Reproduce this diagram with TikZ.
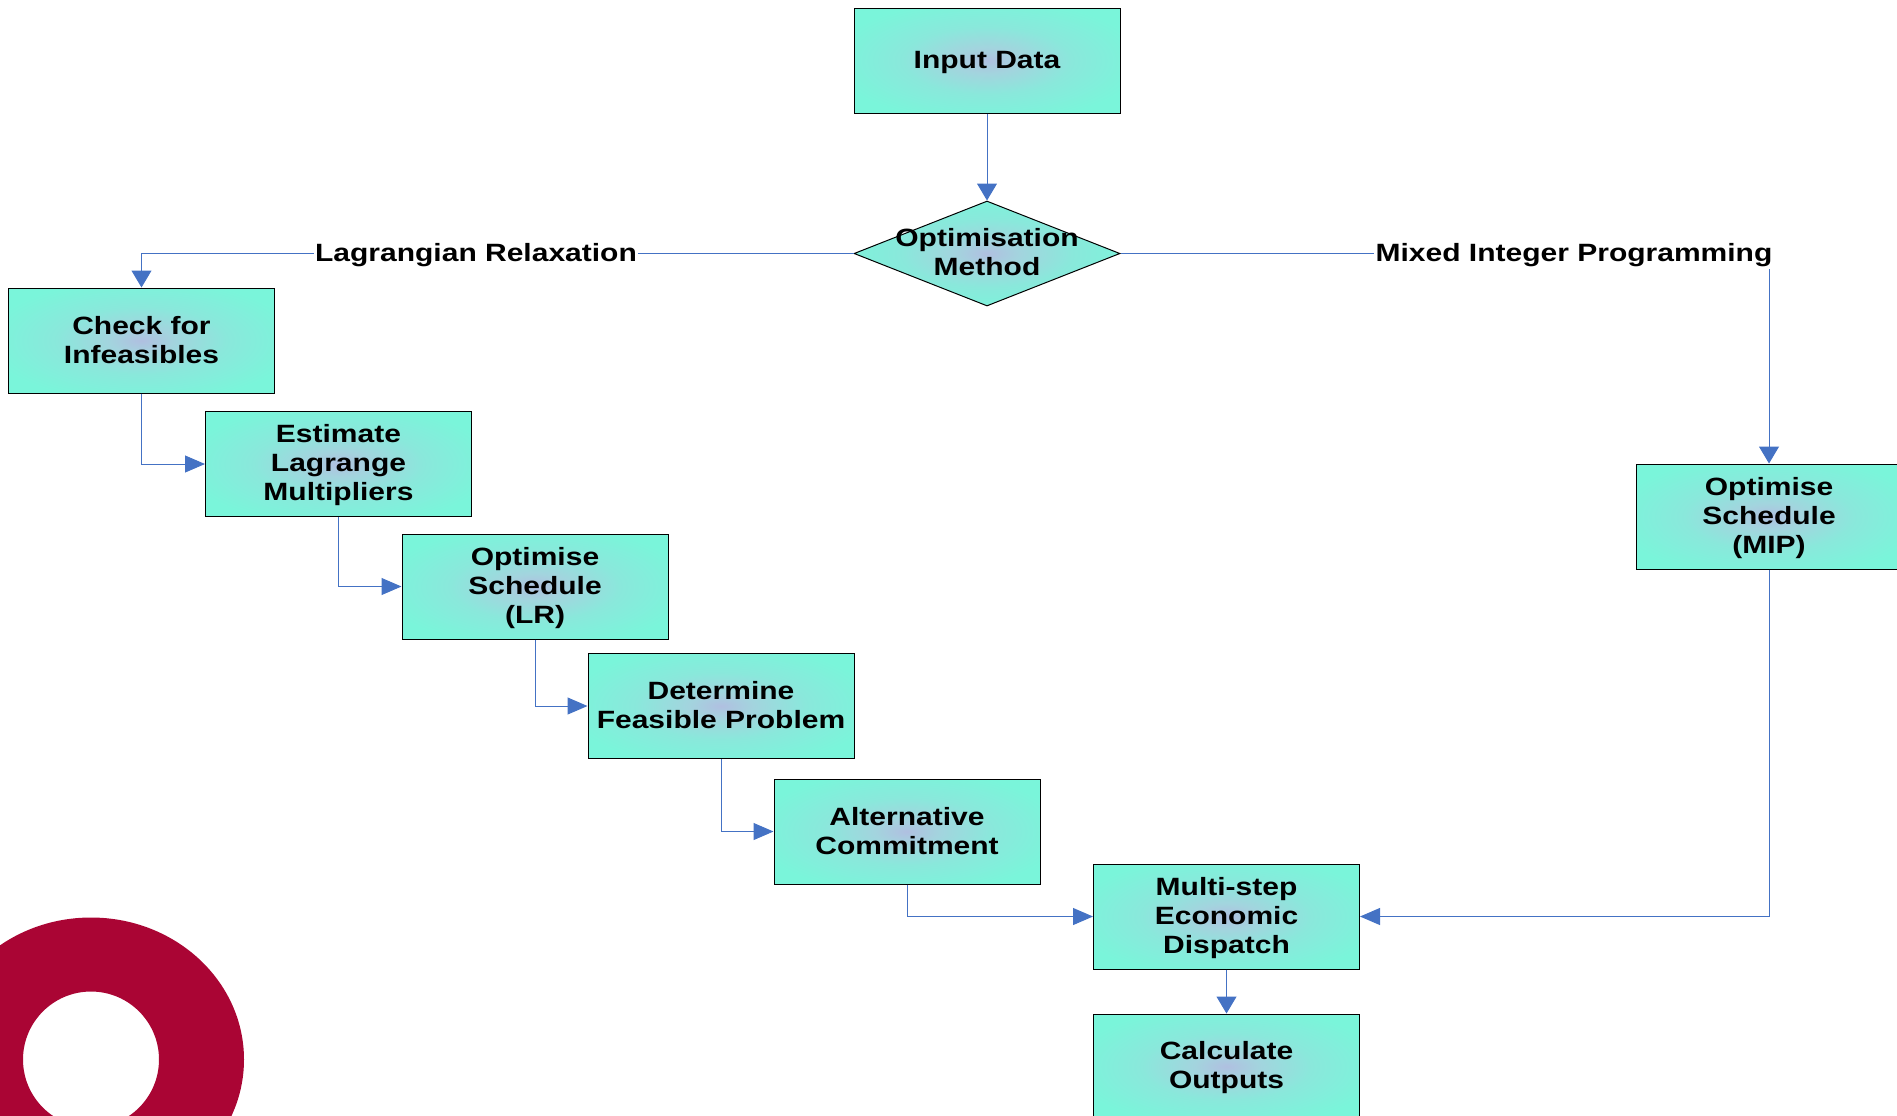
\documentclass[tikz,border=0pt]{standalone}
\usepackage{fontspec}
\setmainfont[FakeStretch=1.2]{Liberation Sans}
\usetikzlibrary{arrows.meta,shapes.geometric}
\definecolor{linkblue}{RGB}{68,114,196}
\definecolor{ringred}{RGB}{170,5,52}
\pgfdeclareradialshading{flowshade}{\pgfpoint{0bp}{0bp}}{%
  rgb(0bp)=(0.69,0.75,0.88);
  rgb(6bp)=(0.64,0.83,0.87);
  rgb(16bp)=(0.54,0.91,0.86);
  rgb(29bp)=(0.48,0.96,0.855);
  rgb(100bp)=(0.48,0.96,0.855)}
\newcommand{\topdrop}{\rule{0pt}{15.5pt}}
\tikzset{every picture/.style={line width=0.75pt}}
\tikzset{
  flowtext/.style={font=\fontsize{18.75}{21.75}\selectfont\bfseries,align=center,inner sep=0pt},
  flowbox/.style={flowtext,draw=black,shading=flowshade,minimum width=199.5pt,minimum height=78.75pt},
  flowdiam/.style={shape=diamond,draw=black,shading=flowshade,inner sep=0pt,minimum width=199.5pt,minimum height=78.75pt},
  flowlabel/.style={flowtext,fill=white,inner xsep=1pt,inner ysep=2pt},
  link/.style={draw=linkblue,-{Triangle[width=15pt,length=12.75pt,fill=linkblue]}},
  linkh/.style={draw=linkblue,-{Triangle[width=12.75pt,length=15pt,fill=linkblue]}},
}
\begin{document}
\begin{tikzpicture}[x=0.75pt,y=0.75pt,yscale=-1,xscale=1]
        \clip (0,0) rectangle (1897,1115);

        % Ring
        \fill [ringred,even odd rule] (91,1059.5) ellipse [x radius=153,y radius=142] (91,1059.5) circle (68);

        % Boxes
        \node [flowbox] (input) at (987,60.5) {\raisebox{0pt}[13.5pt][1.5pt]{Input Data}};
        \node [flowdiam] (method) at (987,253.5) {};
        \node [flowtext] (methodtext) at (987,252.5) {Optimisation\\Method};
        \node [flowbox] (check) at (141.5,340.5) {Check for\\Infeasibles};
        \node [flowbox] (estimate) at (338.5,464) {\topdrop Estimate\\Lagrange\\Multipliers};
        \node [flowbox] (lrsched) at (535,586.5) {\topdrop Optimise\\Schedule\\(LR)};
        \node [flowbox] (feasible) at (721,706) {Determine\\Feasible Problem\rule[-1.8pt]{0pt}{0pt}};
        \node [flowbox] (commit) at (907,831.5) {Alternative\\Commitment};
        \node [flowbox] (dispatch) at (1226.5,916.5) {\topdrop Multi-step\\Economic\\Dispatch};
        \node [flowbox] (outputs) at (1226.5,1066.5) {\topdrop Calculate\\Outputs};
        \node [flowbox] (mipsched) at (1769,516.5) {\topdrop Optimise\\Schedule\\(MIP)};

        % Connectors
        \draw [link] (input) -- (method);
        \draw [link] (method.west) -| (check.north);
        \draw [link] (method.east) -| (mipsched.north);
        \draw [linkh] (check.south) |- (estimate.west);
        \draw [linkh] (estimate.south) |- (lrsched.west);
        \draw [linkh] (lrsched.south) |- (feasible.west);
        \draw [linkh] (feasible.south) |- (commit.west);
        \draw [linkh] (commit.south) |- (dispatch.west);
        \draw [linkh] (mipsched.south) |- (dispatch.east);
        \draw [link] (dispatch) -- (outputs);

        % Text Node
        \node [flowlabel] (lrlabel) at (476,255) {Lagrangian Relaxation};
        % Text Node
        \node [flowlabel] (miplabel) at (1574,255) {Mixed Integer Programming};

\end{tikzpicture}
\end{document}
